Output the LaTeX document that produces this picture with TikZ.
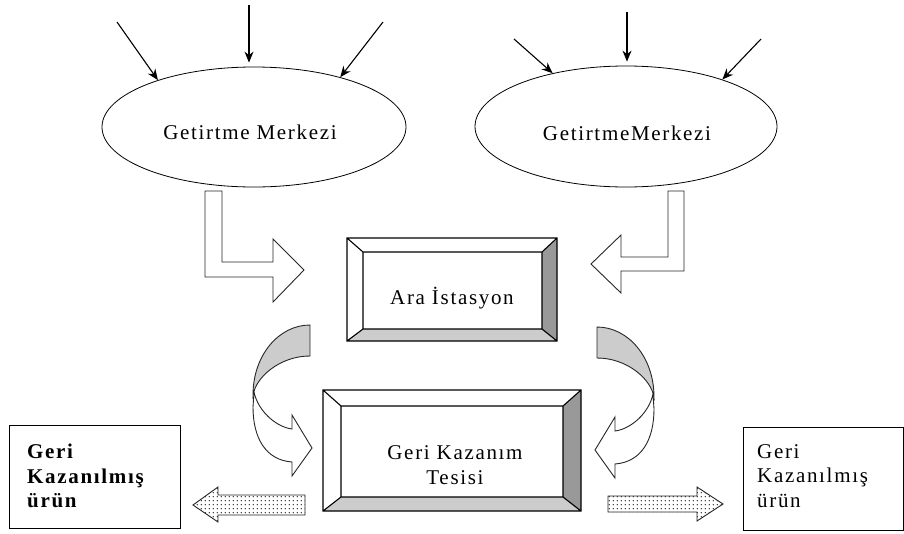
\documentclass[tikz,border=0pt]{standalone}
\usepackage{fontspec}
\setmainfont{Liberation Serif}[LetterSpace=8]
\usetikzlibrary{shapes.geometric,arrows.meta,patterns}

\definecolor{bevellight}{gray}{0.80}
\definecolor{beveldark}{gray}{0.60}
\definecolor{curvegray}{gray}{0.80}
\definecolor{edgeline}{gray}{0.15}

% sparse dot grid for the output arrows
\pgfdeclarepatternformonly{sparsedots}{\pgfpointorigin}{\pgfqpoint{4pt}{4pt}}{\pgfqpoint{4pt}{4pt}}%
  {\pgfpathcircle{\pgfqpoint{1.5pt}{1.5pt}}{0.7pt}\pgfusepath{fill}}

% bevelled frame: outer x1 y1 x2 y2, inner x1 y1 x2 y2
\newcommand\bevelbox[8]{%
  \fill[white] (#1,#2) -- (#3,#2) -- (#7,#6) -- (#5,#6) -- cycle;
  \fill[white] (#1,#2) -- (#5,#6) -- (#5,#8) -- (#1,#4) -- cycle;
  \fill[bevellight] (#1,#4) -- (#5,#8) -- (#7,#8) -- (#3,#4) -- cycle;
  \fill[beveldark] (#3,#2) -- (#7,#6) -- (#7,#8) -- (#3,#4) -- cycle;
  \draw[bevelline] (#1,#2) rectangle (#3,#4) (#5,#6) rectangle (#7,#8)
    (#1,#2) -- (#5,#6) (#3,#2) -- (#7,#6) (#1,#4) -- (#5,#8) (#3,#4) -- (#7,#8);
}

\tikzset{
  bevelline/.style={draw=black, line width=1.1pt},
  pointer/.style={line width=1.1pt, -{Stealth[length=11pt,width=9pt]}},
  centre/.style={ellipse, draw=black, line width=0.8pt, inner sep=0pt},
  plaintext/.style={font=\fontsize{21}{24.5}\selectfont, inner sep=0pt},
  blocktext/.style={plaintext, align=center},
  resultbox/.style={draw=black, line width=1pt},
  resulttext/.style={plaintext, align=left, anchor=north west},
  blockarrow/.style={draw=edgeline, line width=0.9pt, fill=white, line join=miter},
  dotarrow/.style={draw=edgeline, line width=0.9pt, preaction={fill=white}, pattern=sparsedots},
  curvedark/.style={draw=edgeline, line width=0.9pt, fill=curvegray},
  curvelight/.style={draw=edgeline, line width=0.9pt, fill=white},
  pics/uturn/.style={code={
    % body with the arrow head
    \draw[curvelight] (-56,67) .. controls (-52,86) and (-34,102) .. (-18,104)
      -- (-18,90) -- (2,123) -- (-18,151) -- (-18,137)
      .. controls (-45,135) and (-57,112) .. (-57,82) -- cycle;
    % shaded back part
    \draw[curvedark] (0,0) .. controls (-31,0) and (-57,30) .. (-57,70)
      .. controls (-54,52) and (-30,31) .. (0,31) -- cycle;
  }}
}

\begin{document}
\begin{tikzpicture}[x=1pt,y=-1pt]
\useasboundingbox (0,0) rectangle (904,533);

% collection centres
\node[centre, minimum width=304pt, minimum height=120pt] (e1) at (254,127) {};
\node[centre, minimum width=302pt, minimum height=121pt] (e2) at (626,126.5) {};
\node[plaintext] (t1) at (250,132) {Getirtme Merkezi};
\node[plaintext] (t2) at (627,133) {GetirtmeMerkezi};

% incoming flows
\coordinate (a1) at (117,22);
\coordinate (a2) at (249,5);
\coordinate (a3) at (383,22);
\coordinate (b1) at (514,39);
\coordinate (b2) at (627,12);
\coordinate (b3) at (761,39);
\draw[pointer] (a1) -- (e1.154);
\draw[pointer, shorten >=4pt] (a2) -- (a2 |- e1.north);
\draw[pointer] (a3) -- (e1.30);
\draw[pointer] (b1) -- (e2.144);
\draw[pointer, shorten >=4pt] (b2) -- (b2 |- e2.north);
\draw[pointer] (b3) -- (e2.26);

% transfer station and recovery plant
\bevelbox{347}{238}{557}{341}{363}{252}{542}{329}
\node[blocktext] (ara) at (452,298) {Ara İstasyon};
\bevelbox{323}{390}{581}{511}{341}{406}{563}{497}
\node[blocktext] (tesis) at (455,465) {Geri Kazanım\\Tesisi};

% bent arrows into the station
\draw[blockarrow] (205,191) -- (222,191) -- (222,262) -- (273,262) -- (273,239)
  -- (304,270) -- (273,302) -- (273,277) -- (205,277) -- cycle;
\draw[blockarrow] (684,191) -- (668,191) -- (668,257) -- (621,257) -- (621,235)
  -- (591,264) -- (621,293) -- (621,271) -- (684,271) -- cycle;

% curved arrows from the station down to the plant
\pic at (310,325) {uturn};
\pic[xscale=-1] at (597,327) {uturn};

% recovered products
\draw[dotarrow] (305,495) -- (218,495) -- (218,487) -- (193,505) -- (218,522)
  -- (218,515) -- (305,515) -- cycle;
\draw[dotarrow] (608,496) -- (697,496) -- (697,487) -- (723,504) -- (697,521)
  -- (697,512) -- (608,512) -- cycle;

\draw[resultbox] (9,425) rectangle (180,528);
\node[resulttext, font=\fontsize{21}{24.5}\selectfont\bfseries] (r1) at (27,444) {Geri\\Kazanılmış\\ürün};
\draw[resultbox] (743,427) rectangle (903,530);
\node[resulttext] (r2) at (757,444) {Geri\\Kazanılmış\\ürün};
\end{tikzpicture}
\end{document}
